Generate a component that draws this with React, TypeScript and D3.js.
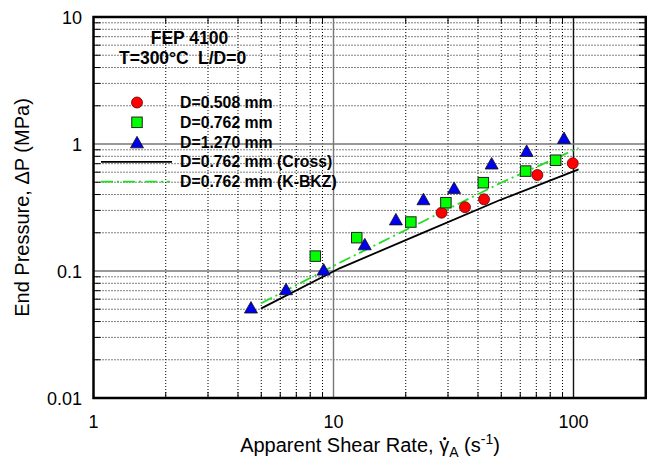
import React, { useLayoutEffect, useRef, useState } from "react";
import * as d3 from "d3";

// Measured end pressure vs apparent shear rate, FEP 4100 at 300 °C, L/D = 0
const d508Rate = [28.2, 35.3, 42.4, 70.7, 99.3];
const d508Pressure = [0.288, 0.318, 0.367, 0.57, 0.705];

const d762Rate = [8.4, 12.5, 21.0, 29.4, 42.1, 63.2, 84.3];
const d762Pressure = [0.131, 0.183, 0.243, 0.345, 0.496, 0.612, 0.745];

const d1270Rate = [4.53, 6.34, 9.1, 13.5, 18.2, 23.7, 31.8, 45.6, 63.8, 91.3];
const d1270Pressure = [0.0518, 0.0722, 0.103, 0.163, 0.256, 0.369, 0.453, 0.705, 0.886, 1.12];

// Model predictions for D = 0.762 mm
const crossRate = [5.0, 10.6, 22, 49.4, 105];
const crossPressure = [0.0508, 0.105, 0.189, 0.362, 0.632];

const kbkzRate = [5.0, 10.6, 22, 49.4, 105];
const kbkzPressure = [0.0557, 0.116, 0.23, 0.491, 0.93];

const xTickValues = [1, 10, 100];
const xTickLabels = ["1", "10", "100"];
const yTickValues = [0.01, 0.1, 1, 10];
const yTickLabels = ["0.01", "0.1", "1", "10"];

const legendLabels = [
  "D=0.508 mm",
  "D=0.762 mm",
  "D=1.270 mm",
  "D=0.762 mm (Cross)",
  "D=0.762 mm (K-BKZ)",
];

const W = 653;
const H = 461;
const left = 93.5;
const top = 17;
const bottom = 398;

const x = d3.scaleLog().domain([1, 200]).range([left, left + 240 * Math.log10(200)]);
const y = d3.scaleLog().domain([0.01, 10]).range([bottom, top]);
const right = x(200);

const FONT = "'Liberation Sans', Arial, Helvetica, sans-serif";
const RED = "#ff0000";
const GREEN = "#00ff00";
const BLUE = "#0000ee";
const KBKZ = "#22dd22";

function minors(lo: number, hi: number): number[] {
  const out: number[] = [];
  for (let dec = lo; dec < hi; dec *= 10) {
    for (let k = 2; k <= 9; k++) {
      const v = dec * k;
      if (v < hi) out.push(v);
    }
  }
  return out;
}

function Circle({ cx, cy }: { cx: number; cy: number }) {
  return <circle cx={cx} cy={cy} r={5.5} fill={RED} stroke="#600" strokeWidth={0.8} />;
}
function Square({ cx, cy }: { cx: number; cy: number }) {
  const s = 10.5;
  return <rect x={cx - s / 2} y={cy - s / 2} width={s} height={s} fill={GREEN} stroke="#222" strokeWidth={1} />;
}
function Triangle({ cx, cy }: { cx: number; cy: number }) {
  const w = 13;
  const h = 11.5;
  const p = `M${cx},${cy - h / 2}L${cx + w / 2},${cy + h / 2}L${cx - w / 2},${cy + h / 2}Z`;
  return <path d={p} fill={BLUE} stroke="#111" strokeWidth={0.8} />;
}

export default function App() {
  const xMinor = minors(1, 200);
  const yMinor = minors(0.01, 10);
  const gammaRef = useRef<SVGTSpanElement>(null);
  const [dot, setDot] = useState<{ x: number; y: number } | null>(null);

  useLayoutEffect(() => {
    const el = gammaRef.current;
    if (el) {
      const b = el.getBBox();
      setDot({ x: b.x + b.width * 0.55, y: b.y + b.height * 0.2 });
    }
  }, []);

  const line = d3
    .line<[number, number]>()
    .x((d) => x(d[0]))
    .y((d) => y(d[1]));

  const crossPath = line(crossRate.map((r, i) => [r, crossPressure[i]]) as [number, number][]) || "";
  const kbkzPath = line(kbkzRate.map((r, i) => [r, kbkzPressure[i]]) as [number, number][]) || "";

  const legendY = (i: number) => 102.5 + i * 19.8;
  const legendMarkX = 137;
  const legendTextX = 180;

  return (
    <svg width={W} height={H} style={{ position: "absolute", left: 0, top: 0, background: "#fff" }}>
      <rect x={0} y={0} width={W} height={H} fill="#fff" />

      {/* minor grid */}
      {xMinor.map((v) => (
        <g key={"xm" + v}>
          <line x1={x(v)} x2={x(v)} y1={top} y2={bottom} stroke="#000" strokeWidth={1} strokeDasharray="1,2" />
          <line x1={x(v)} x2={x(v)} y1={bottom} y2={bottom - 6} stroke="#000" strokeWidth={1} />
          <line x1={x(v)} x2={x(v)} y1={top} y2={top + 6} stroke="#000" strokeWidth={1} />
        </g>
      ))}
      {yMinor.map((v) => (
        <g key={"ym" + v}>
          <line x1={left} x2={right} y1={y(v)} y2={y(v)} stroke="#000" strokeWidth={1} strokeDasharray="1,2" />
          <line x1={left} x2={left + 7} y1={y(v)} y2={y(v)} stroke="#000" strokeWidth={1} />
          <line x1={right} x2={right - 7} y1={y(v)} y2={y(v)} stroke="#000" strokeWidth={1} />
        </g>
      ))}

      {/* major grid */}
      <line x1={x(10)} x2={x(10)} y1={top} y2={bottom} stroke="#777" strokeWidth={1.4} />
      <line x1={x(100)} x2={x(100)} y1={top} y2={bottom} stroke="#111" strokeWidth={1.4} />
      <line x1={left} x2={right} y1={y(0.1)} y2={y(0.1)} stroke="#777" strokeWidth={1.4} />
      <line x1={left} x2={right} y1={y(1)} y2={y(1)} stroke="#777" strokeWidth={1.4} />

      {/* model curves */}
      <path d={crossPath} fill="none" stroke="#000" strokeWidth={1.8} />
      <path d={kbkzPath} fill="none" stroke={KBKZ} strokeWidth={1.8} strokeDasharray="12,4,2,4" />

      {/* measurements */}
      {d508Rate.map((r, i) => (
        <Circle key={"c" + i} cx={x(r)} cy={y(d508Pressure[i])} />
      ))}
      {d762Rate.map((r, i) => (
        <Square key={"s" + i} cx={x(r)} cy={y(d762Pressure[i])} />
      ))}
      {d1270Rate.map((r, i) => (
        <Triangle key={"t" + i} cx={x(r)} cy={y(d1270Pressure[i])} />
      ))}

      {/* frame */}
      <rect x={left} y={top} width={right - left} height={bottom - top} fill="none" stroke="#000" strokeWidth={2.5} />

      {/* annotation */}
      <text x={189.5} y={44} textAnchor="middle" fontFamily={FONT} fontWeight="bold" fontSize={17.5}>
        FEP 4100
      </text>
      <text x={119} y={64} fontFamily={FONT} fontWeight="bold" fontSize={17.5}>
        T=300°C
      </text>
      <text x={198} y={64} fontFamily={FONT} fontWeight="bold" fontSize={17.5}>
        L/D=0
      </text>

      {/* legend */}
      <Circle cx={legendMarkX} cy={legendY(0)} />
      <Square cx={legendMarkX} cy={legendY(1)} />
      <Triangle cx={legendMarkX} cy={legendY(2)} />
      <line x1={101} x2={172} y1={legendY(3)} y2={legendY(3)} stroke="#000" strokeWidth={1.8} />
      <line x1={101} x2={170} y1={legendY(4)} y2={legendY(4)} stroke={KBKZ} strokeWidth={1.8} strokeDasharray="12,4,2,4" />
      {legendLabels.map((t, i) => (
        <text key={t} x={legendTextX} y={legendY(i) + 5.5} fontFamily={FONT} fontWeight="bold" fontSize={15.8}>
          {t}
        </text>
      ))}

      {/* tick labels */}
      {xTickValues.map((v, i) => (
        <text key={"xt" + v} x={x(v)} y={428} textAnchor="middle" fontFamily={FONT} fontSize={18}>
          {xTickLabels[i]}
        </text>
      ))}
      {yTickValues.map((v, i) => (
        <text key={"yt" + v} x={82} y={y(v) + 6.5} textAnchor="end" fontFamily={FONT} fontSize={18}>
          {yTickLabels[i]}
        </text>
      ))}

      {/* axis titles */}
      <text x={370} y={452} textAnchor="middle" fontFamily={FONT} fontSize={20}>
        Apparent Shear Rate, <tspan ref={gammaRef}>γ</tspan>
        <tspan dy={5} fontSize={14}>A</tspan>
        <tspan dy={-5}> (s</tspan>
        <tspan dy={-8} fontSize={14}>-1</tspan>
        <tspan dy={8}>)</tspan>
      </text>
      {dot && <circle cx={dot.x} cy={dot.y} r={1.5} fill="#000" />}
      <text
        transform={`translate(29,${(top + bottom) / 2}) rotate(-90)`}
        textAnchor="middle"
        fontFamily={FONT}
        fontSize={20}
      >
        End Pressure, ΔP (MPa)
      </text>
    </svg>
  );
}
